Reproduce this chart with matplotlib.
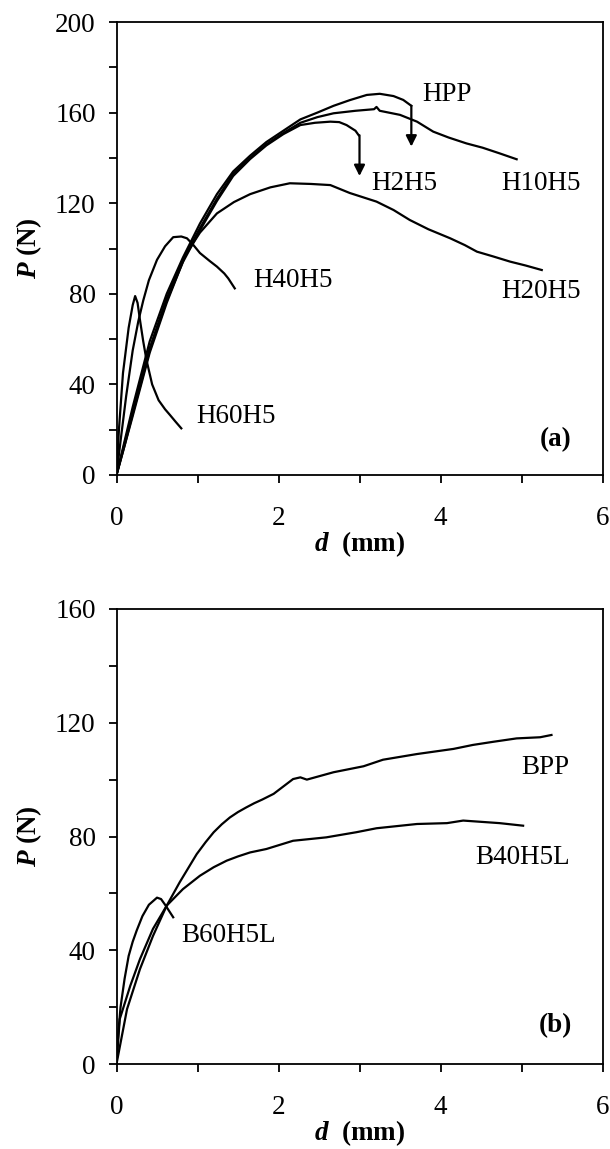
import matplotlib
matplotlib.use("Agg")
import matplotlib.pyplot as plt
from matplotlib.ticker import MultipleLocator

plt.rcParams['font.family'] = ['Liberation Serif', 'DejaVu Serif']
plt.rcParams['mathtext.fontset'] = 'custom'
plt.rcParams['mathtext.bfit'] = 'Liberation Serif:bold:italic'
plt.rcParams['mathtext.rm'] = 'Liberation Serif'

# ---- panel (a) data: d (mm), P (N) ----
hpp_d = [0, 0.1, 0.2, 0.41, 0.62, 0.82, 1.03, 1.24, 1.44, 1.65, 1.85, 2.06, 2.27, 2.48, 2.68, 2.88, 3.09, 3.25, 3.42, 3.54, 3.64]
hpp_p = [0, 15, 30, 59, 80, 96, 111, 124, 134, 141, 147, 152, 157, 160, 163, 165.5, 167.8, 168.3, 167.3, 165.6, 163]

h10_d = [0, 0.1, 0.2, 0.41, 0.62, 0.82, 1.03, 1.24, 1.44, 1.65, 1.85, 2.06, 2.27, 2.48, 2.68, 2.95, 3.18, 3.21, 3.25, 3.5, 3.71, 3.91, 4.1, 4.32, 4.52, 4.73, 4.94]
h10_p = [0, 14, 28, 56, 78, 95, 109, 122, 133, 140, 146, 151, 155.5, 158, 159.7, 160.8, 161.5, 162.5, 160.8, 159, 156, 151.6, 149, 146.4, 144.5, 142, 139.4]

h2_d = [0, 0.1, 0.2, 0.41, 0.62, 0.82, 1.03, 1.24, 1.44, 1.65, 1.85, 2.06, 2.27, 2.45, 2.64, 2.75, 2.84, 2.95, 2.99]
h2_p = [0, 13, 27, 55, 77, 94, 108, 121, 132, 139.5, 145.5, 150.5, 154.5, 155.5, 156, 155.8, 154.5, 152, 150]

h20_d = [0, 0.1, 0.2, 0.41, 0.62, 0.85, 1.03, 1.24, 1.45, 1.65, 1.9, 2.14, 2.4, 2.64, 2.88, 3.21, 3.42, 3.62, 3.85, 4.12, 4.3, 4.45, 4.65, 4.86, 5.05, 5.25]
h20_p = [0, 13, 26, 54, 76, 97, 107, 115.5, 120.5, 124, 127, 128.8, 128.5, 128, 124.5, 120.7, 117, 112.6, 108.5, 104.5, 101.5, 98.6, 96.5, 94.2, 92.5, 90.5]

h40_d = [0, 0.05, 0.12, 0.2, 0.27, 0.33, 0.4, 0.5, 0.6, 0.7, 0.8, 0.87, 0.95, 1.03, 1.15, 1.24, 1.33, 1.38, 1.46]
h40_p = [0, 15, 35, 55, 68, 77, 86, 95, 101, 105, 105.3, 104.5, 101.5, 98, 94.5, 92, 89, 86.8, 82.4]

h60_d = [0, 0.03, 0.08, 0.15, 0.2, 0.23, 0.26, 0.29, 0.33, 0.37, 0.44, 0.52, 0.6, 0.66, 0.73, 0.8]
h60_p = [0, 20, 45, 65, 75, 79, 76, 68.4, 59, 50.8, 40, 33, 29, 26.5, 23.5, 20.6]

# arrows at failure points (d, P start, P end)
arrow_d = [3.64, 3.0]
arrow_p0 = [163, 150]
arrow_p1 = [145, 132]

labels_a = ["HPP", "H2H5", "H10H5", "H40H5", "H20H5", "H60H5"]
label_a_d = [3.77, 3.15, 4.75, 1.69, 4.75, 0.99]
label_a_p = [167.8, 128.8, 128.8, 86, 81, 25.8]

# ---- panel (b) data ----
bpp_d = [0, 0.13, 0.29, 0.45, 0.62, 0.78, 0.99, 1.1, 1.2, 1.3, 1.4, 1.5, 1.6, 1.7, 1.8, 1.94, 2.18, 2.27, 2.35, 2.68, 3.05, 3.29, 3.71, 4.16, 4.4, 4.65, 4.94, 5.23, 5.37]
bpp_p = [0, 19.3, 33.4, 45, 55.7, 63.9, 73.8, 78, 81.5, 84.3, 86.7, 88.6, 90.2, 91.7, 93, 95, 100.2, 100.8, 100, 102.6, 104.7, 107, 109, 110.8, 112.2, 113.3, 114.5, 114.9, 115.7]

b40_d = [0, 0.04, 0.17, 0.29, 0.45, 0.62, 0.82, 1.03, 1.2, 1.36, 1.5, 1.65, 1.85, 2.18, 2.59, 2.96, 3.21, 3.71, 4.08, 4.28, 4.73, 5.02]
b40_p = [0, 15.8, 27.5, 36.9, 47.5, 55.7, 61.5, 66.2, 69.2, 71.5, 73, 74.4, 75.6, 78.5, 79.7, 81.5, 82.9, 84.4, 84.7, 85.6, 84.7, 83.8]

b60_d = [0, 0.02, 0.05, 0.1, 0.15, 0.2, 0.25, 0.32, 0.4, 0.5, 0.55, 0.6, 0.7]
b60_p = [0, 10, 20, 30, 38, 43, 47, 52, 56, 58.5, 58, 56, 51.6]

labels_b = ["BPP", "B40H5L", "B60H5L"]
label_b_d = [5.0, 4.43, 0.8]
label_b_p = [104.3, 72.7, 45.1]

W, H = 610, 1149
fig = plt.figure(figsize=(W / 100, H / 100), dpi=100)
FS = 19.5
LW = 1.6


def style_axes(ax, ymax):
    ax.set_xlim(0, 6)
    ax.set_ylim(0, ymax)
    ax.xaxis.set_major_locator(MultipleLocator(2))
    ax.xaxis.set_minor_locator(MultipleLocator(1))
    ax.yaxis.set_major_locator(MultipleLocator(40))
    ax.yaxis.set_minor_locator(MultipleLocator(20))
    ax.tick_params(which='both', direction='out', length=6, width=1.3, top=False, right=False)
    ax.tick_params(axis='x', which='major', pad=16, labelsize=FS)
    ax.tick_params(axis='y', which='major', pad=9, labelsize=FS)
    for s in ax.spines.values():
        s.set_linewidth(1.3)
    ax.set_xlabel(r'$\mathbfit{d}$  (mm)', fontsize=FS, fontweight='bold', labelpad=-1)
    ax.set_ylabel(r'$\mathbfit{P}$ (N)', fontsize=FS, fontweight='bold', labelpad=8)


# axes positions in figure fractions
left = 116.5 / W
width = 486 / W
ax1 = fig.add_axes([left, 1 - 475 / H, width, 453 / H])
ax2 = fig.add_axes([left, 1 - 1064 / H, width, 455 / H])

for dd, pp in [(hpp_d, hpp_p), (h10_d, h10_p), (h2_d, h2_p), (h20_d, h20_p), (h40_d, h40_p), (h60_d, h60_p)]:
    ax1.plot(dd, pp, color='black', lw=LW)
for d, p0, p1 in zip(arrow_d, arrow_p0, arrow_p1):
    ax1.annotate('', xy=(d, p1), xytext=(d, p0),
                 arrowprops=dict(arrowstyle='-|>', color='black', lw=LW, mutation_scale=16, shrinkA=0, shrinkB=0))
for t, d, p in zip(labels_a, label_a_d, label_a_p):
    ax1.text(d, p, t, fontsize=FS, ha='left', va='center')
ax1.text(5.62, 15.5, '(a)', fontsize=FS, fontweight='bold', ha='right', va='center')
style_axes(ax1, 200)

for dd, pp in [(bpp_d, bpp_p), (b40_d, b40_p), (b60_d, b60_p)]:
    ax2.plot(dd, pp, color='black', lw=LW)
for t, d, p in zip(labels_b, label_b_d, label_b_p):
    ax2.text(d, p, t, fontsize=FS, ha='left', va='center')
ax2.text(5.62, 13.4, '(b)', fontsize=FS, fontweight='bold', ha='right', va='center')
style_axes(ax2, 160)

fig.savefig('out.png', dpi=100)
